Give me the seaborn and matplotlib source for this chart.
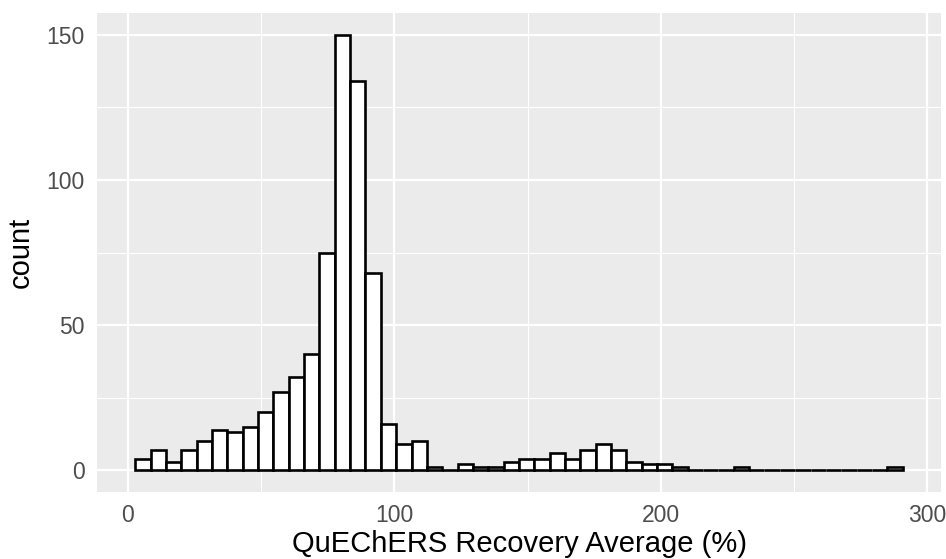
import numpy as np
import pandas as pd
import matplotlib
matplotlib.use("Agg")
import matplotlib.pyplot as plt
import seaborn as sns

# Histogram data (50 bins)
counts = [4, 7, 3, 7, 10, 14, 13, 15, 20, 27,
          32, 40, 75, 150, 134, 68, 16, 9, 10, 1,
          0, 2, 1, 1, 3, 4, 4, 6, 4, 7,
          9, 7, 3, 2, 2, 1, 0, 0, 0, 1,
          0, 0, 0, 0, 0, 0, 0, 0, 0, 1]
bin_start = 2.85
bin_width = 5.757
x_ticks = [0, 100, 200, 300]
y_ticks = [0, 50, 100, 150]
x_label = "QuEChERS Recovery Average (%)"
y_label = "count"

n = len(counts)
edges = bin_start + bin_width * np.arange(n + 1)
centers = (edges[:-1] + edges[1:]) / 2
df = pd.DataFrame({"recovery": centers, "count": np.asarray(counts, dtype=float)})

sns.set_style("white")
plt.rcParams['font.family'] = ['Liberation Sans', 'DejaVu Sans']

fig = plt.figure(figsize=(9.46, 5.59), dpi=100)
ax = fig.add_axes([97 / 946, 1 - 492 / 559, (941 - 97) / 946, (492 - 13) / 559])
ax.set_facecolor('#EBEBEB')

sns.histplot(data=df, x="recovery", weights="count", bins=list(edges), ax=ax,
             color='white', edgecolor='black', linewidth=1.9, alpha=1.0)

ax.set_xlim(-11.5, 305.1)
ax.set_ylim(-7.5, 157.5)
ax.set_xticks(x_ticks)
ax.set_yticks(y_ticks)
ax.set_xticks([50, 150, 250], minor=True)
ax.set_yticks([25, 75, 125], minor=True)
ax.grid(which='major', color='white', linewidth=1.6)
ax.grid(which='minor', color='white', linewidth=0.8)
ax.set_axisbelow(True)
for s in ax.spines.values():
    s.set_visible(False)
ax.tick_params(which='major', direction='out', length=5, width=2.0,
               color='#333333', labelcolor='#4D4D4D', labelsize=16.5, pad=4)
ax.tick_params(which='minor', length=0)
ax.set_xlabel(x_label, fontsize=21, color='black', labelpad=2)
ax.set_ylabel(y_label, fontsize=21, color='black', labelpad=8)

fig.savefig("out.png", dpi=100)
